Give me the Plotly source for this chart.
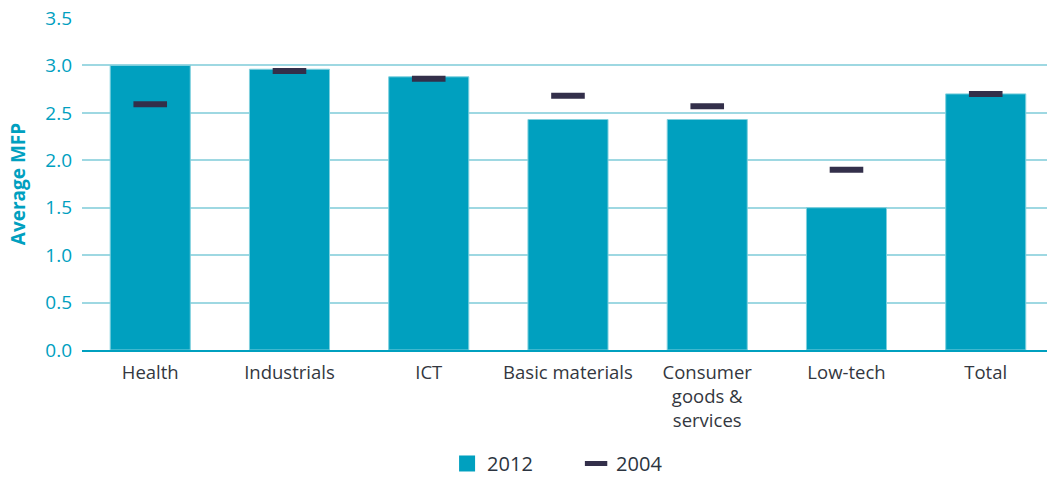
import plotly.graph_objects as go

categories = ["Health", "Industrials", "ICT", "Basic materials", "Consumer<br>goods &<br>services", "Low-tech", "Total"]
values_2012 = [3.00, 2.96, 2.88, 2.43, 2.43, 1.50, 2.70]
values_2004 = [2.59, 2.94, 2.86, 2.68, 2.57, 1.90, 2.70]
y_ticks = [0.0, 0.5, 1.0, 1.5, 2.0, 2.5, 3.0, 3.5]

BAR = "#00A0BF"
DARK = "#332F4A"
FONT = "Open Sans, DejaVu Sans, sans-serif"

x_idx = list(range(len(categories)))

fig = go.Figure()
fig.add_trace(go.Bar(
    x=x_idx, y=values_2012, name="2012", showlegend=False,
    marker=dict(color=BAR, line=dict(color="#7FD0DE", width=1)),
    width=0.575,
))
# legend-only proxy for the bar series (larger square swatch)
fig.add_trace(go.Scatter(
    x=[None], y=[None], name="2012", mode="markers",
    marker=dict(symbol="square", size=16, color=BAR),
))
fig.add_trace(go.Scatter(
    x=x_idx, y=values_2004, name="2004", mode="markers",
    marker=dict(symbol="line-ew", size=24, color=DARK, line=dict(color=DARK, width=6)),
))

fig.update_layout(
    width=1047, height=477,
    margin=dict(l=82, r=0, t=18, b=127, autoexpand=False),
    plot_bgcolor="white", paper_bgcolor="white",
    font=dict(family=FONT, size=18, color="#333740"),
    showlegend=True,
    legend=dict(orientation="h", x=0.512, xanchor="center", y=-0.3825, yanchor="bottom",
                font=dict(size=20, color="#2B3440"), itemwidth=30,
                entrywidth=84, entrywidthmode="pixels",
                traceorder="normal"),
    bargap=0.4,
)
fig.update_xaxes(
    tickmode="array", tickvals=x_idx, ticktext=categories,
    range=[-0.49, 6.44], showgrid=False, showline=True, linecolor="#00A0BF", linewidth=2,
    ticks="", tickfont=dict(size=18.5, color="#333740"), automargin=False,
    ticklabelstandoff=5,
)
fig.update_yaxes(
    range=[0, 3.5], tickvals=y_ticks, tickformat=".1f",
    showgrid=True, gridcolor="#9ED8E2", gridwidth=1.5, zeroline=False,
    tickfont=dict(size=19, color="#00A0BF"), ticks="", ticklen=0, automargin=False,
    ticklabelstandoff=9,
    title=dict(text="<b>Average MFP</b>", font=dict(size=19, color="#00A0BF"), standoff=14),
)

# nudge the legend group down toward the reference position after render
post = """
document.body.style.margin='0';
var gd = document.getElementsByClassName('plotly-graph-div')[0];
function nudge(){
  var lg = gd.querySelector('.legend .scrollbox');
  if (lg) { lg.setAttribute('transform', 'translate(0,6)'); }
  var clips = gd.querySelectorAll('.legend clipPath rect, defs clipPath[id*="legend"] rect');
  clips.forEach(function(r){ var h = parseFloat(r.getAttribute('height')||0); r.setAttribute('height', h+12); });
}
nudge();
"""
fig.write_html("out.html", config={"displayModeBar": False}, post_script=post)
